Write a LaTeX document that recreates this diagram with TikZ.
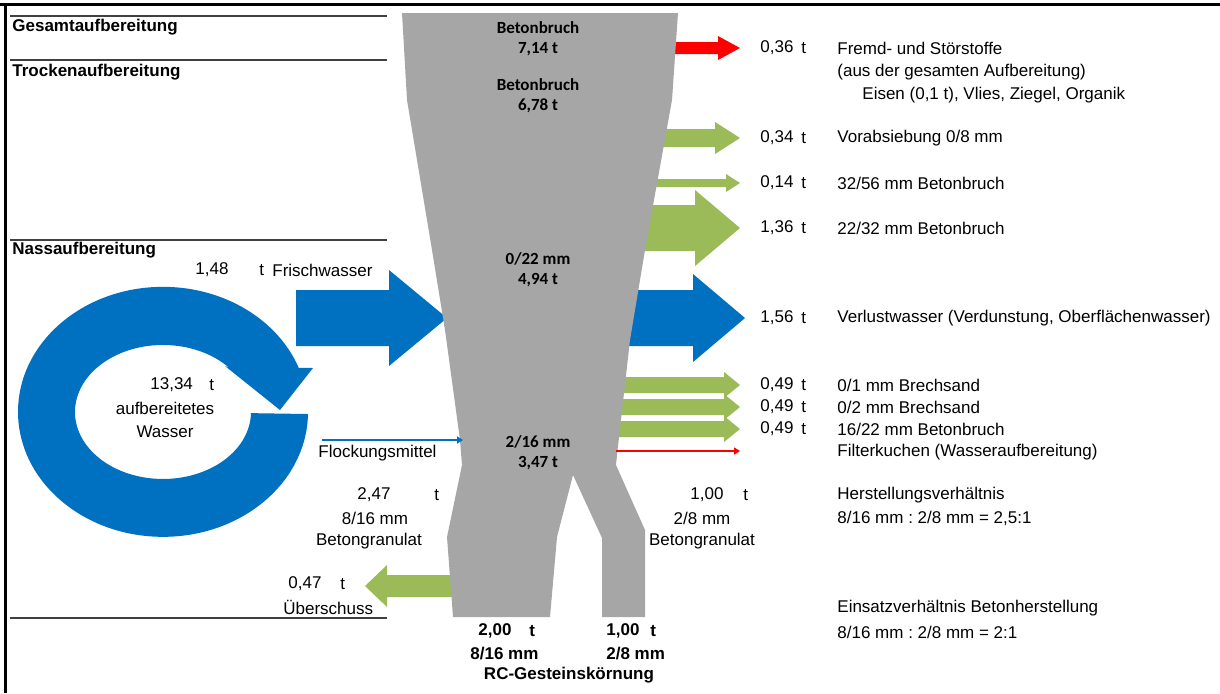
\documentclass[tikz,border=0pt]{standalone}
\usepackage{fontspec}
\setmainfont{Liberation Sans}
\newfontfamily\calib{Carlito}
\usetikzlibrary{arrows.meta}
\frenchspacing

\definecolor{bruch}{HTML}{A6A6A6}
\definecolor{korn}{HTML}{9BBB59}
\definecolor{wasser}{HTML}{0070C0}
\definecolor{stoer}{HTML}{FF0000}

% block arrow: colour, x start, x tip, y, shaft half, head half, head length
\newcommand{\blockarr}[7]{%
  \fill[#1] (#2,{#4-#5}) -- ({#3-#7},{#4-#5}) -- ({#3-#7},{#4-#6}) -- (#3,#4)
    -- ({#3-#7},{#4+#6}) -- ({#3-#7},{#4+#5}) -- (#2,{#4+#5}) -- cycle;}

\begin{document}
\begin{tikzpicture}[x=0.5pt,y=-0.5pt,
    every node/.style={inner sep=0pt,font=\fontsize{8.5}{10}\selectfont},
    txt/.style={anchor=west},
    hdr/.style={anchor=west,font=\fontsize{8.5}{10}\selectfont\bfseries},
    fett/.style={anchor=west,font=\fontsize{8.5}{10}\selectfont\bfseries},
    grau/.style={align=center,font=\fontsize{8.5}{10}\selectfont\calib\bfseries},
    rule/.style={line width=0.8pt,black!75},
    thin/.style={line width=1.3pt,-{Triangle[length=3pt,width=3.5pt]}}
]
\useasboundingbox (0,0) rectangle (1220,693);

% frame and section rules
\draw[line width=1.5pt] (0,4) -- (1220,4);
\draw[line width=1.5pt] (5,4) -- (5,693);
\draw[rule] (10,16) -- (387,16);
\draw[rule] (10,60) -- (387,60);
\draw[rule] (10,240) -- (387,240);
\draw[rule] (10,618) -- (387,618);

\node[hdr] (gesamt) at (12,27) {Gesamtaufbereitung};
\node[hdr] (trocken) at (12,72) {Trockenaufbereitung};
\node[hdr] (nass) at (12,250) {Nassaufbereitung};

% outflows
\blockarr{stoer}{665}{740}{48}{6}{12}{22}
\blockarr{korn}{650}{740}{138}{9}{16}{25}
\blockarr{korn}{640}{740}{183}{4}{9}{14}
\blockarr{korn}{630}{740}{228}{23}{38}{45}
\blockarr{wasser}{620}{745}{318}{28}{44}{52}
\blockarr{korn}{610}{740}{385}{8}{13}{16}
\blockarr{korn}{610}{740}{407}{8}{13}{16}
\blockarr{korn}{610}{740}{429}{8}{13}{16}
\blockarr{korn}{460}{365}{586}{11}{21}{-22}

% inflows
\blockarr{wasser}{296}{447}{318}{28}{48}{58}

% water cycle
\fill[wasser] (308,414) arc[start angle=1,end angle=339.4,x radius=145,y radius=125]
  -- (313,368) -- (280,410) -- (225,366) -- (229.4,368)
  arc[start angle=319,end angle=1,x radius=88,y radius=67] -- cycle;

% material body
\fill[bruch] (402,13) -- (678,13) -- (672,100) -- (645,250) -- (630,340)
  -- (617,455) -- (616,465) -- (645,530) -- (645,617) -- (602,617)
  -- (602,538) -- (573,475) -- (557,537) -- (550,617) -- (453,617)
  -- (447,537) -- (462,465) -- (460,440) -- (445,330) -- (432,250)
  -- (407,100) -- cycle;

\coordinate (flockA) at (322,440);
\coordinate (flockB) at (463,440);
\coordinate (filterA) at (616,451);
\coordinate (filterB) at (740,451);
\draw[thin,wasser] (flockA) -- (flockB);
\draw[thin,stoer] (filterA) -- (filterB);

\node[grau] (bruch1) at (538,39) {Betonbruch\\7,14 t};
\node[grau] (bruch2) at (538,96) {Betonbruch\\6,78 t};
\node[grau] (fraktion1) at (538,270) {0/22 mm\\4,94 t};
\node[grau] (fraktion2) at (538,453) {2/16 mm\\3,47 t};

% right column
\node[txt] (v1) at (760,48) {0,36};
\node[txt] (t1) at (801,48) {t};
\node[txt] (l1) at (837,48) {Fremd- und Störstoffe};
\node[txt] (l1b) at (837,72) {(aus der gesamten Aufbereitung)};
\node[txt] (l1c) at (862,95) {Eisen (0,1 t), Vlies, Ziegel, Organik};
\node[txt] (v2) at (760,138) {0,34};
\node[txt] (t2) at (801,138) {t};
\node[txt] (l2) at (837,138) {Vorabsiebung 0/8 mm};
\node[txt] (v3) at (760,183) {0,14};
\node[txt] (t3) at (801,183) {t};
\node[txt] (l3) at (837,183) {32/56 mm Betonbruch};
\node[txt] (v4) at (760,228) {1,36};
\node[txt] (t4) at (801,228) {t};
\node[txt] (l4) at (837,228) {22/32 mm Betonbruch};
\node[txt] (v5) at (760,318) {1,56};
\node[txt] (t5) at (801,318) {t};
\node[txt] (l5) at (837,318) {Verlustwasser (Verdunstung, Oberflächenwasser)};
\node[txt] (v6) at (760,385) {0,49};
\node[txt] (t6) at (801,385) {t};
\node[txt] (l6) at (837,385) {0/1 mm Brechsand};
\node[txt] (v7) at (760,407) {0,49};
\node[txt] (t7) at (801,407) {t};
\node[txt] (l7) at (837,407) {0/2 mm Brechsand};
\node[txt] (v8) at (760,429) {0,49};
\node[txt] (t8) at (801,429) {t};
\node[txt] (l8) at (837,429) {16/22 mm Betonbruch};
\node[txt] (l9) at (837,452) {Filterkuchen (Wasseraufbereitung)};
\node[txt] (herst) at (837,495) {Herstellungsverhältnis};
\node[txt] (herstv) at (837,518) {8/16 mm : 2/8 mm = 2,5:1};
\node[txt] (einsatz) at (837,608) {Einsatzverhältnis Betonherstellung};
\node[txt] (einsatzv) at (837,632) {8/16 mm : 2/8 mm = 2:1};

% left side
\node[txt] (frischv) at (195,270) {1,48};
\node[txt] (frischt) at (259,270) {t};
\node[txt] (frisch) at (272,270) {Frischwasser};
\node[txt] (kreisv) at (150,385) {13,34};
\node[txt] (kreist) at (209,385) {t};
\node (kreis1) at (165,408) {aufbereitetes};
\node (kreis2) at (165,432) {Wasser};
\node[txt] (flock) at (318,453) {Flockungsmittel};

\node[txt] (grobv) at (357,495) {2,47};
\node[txt] (grobt) at (434,495) {t};
\node (grob1) at (375,518) {8/16 mm};
\node (grob2) at (369,541) {Betongranulat};
\node[txt] (feinv) at (690,495) {1,00};
\node[txt] (feint) at (743,495) {t};
\node (fein1) at (702,518) {2/8 mm};
\node (fein2) at (702,541) {Betongranulat};

\node[txt] (uebv) at (288,584) {0,47};
\node[txt] (uebt) at (340,584) {t};
\node[txt] (ueb) at (283,607) {Überschuss};

% products
\node[fett] (rc1v) at (478,631) {2,00};
\node[fett] (rc1t) at (529,631) {t};
\node[fett] (rc2v) at (606,631) {1,00};
\node[fett] (rc2t) at (650,631) {t};
\node[fett] (rc1) at (470,653) {8/16 mm};
\node[fett] (rc2) at (606,653) {2/8 mm};
\node[font=\fontsize{8.5}{10}\selectfont\bfseries] (rc) at (569,675) {RC-Gesteinskörnung};
\end{tikzpicture}
\end{document}
